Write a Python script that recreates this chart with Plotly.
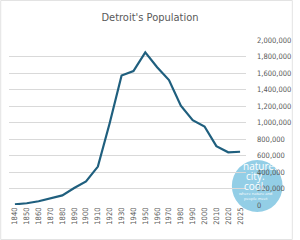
import plotly.graph_objects as go

years = ["1840", "1850", "1860", "1870", "1880", "1890", "1900", "1910", "1920", "1930",
         "1940", "1950", "1960", "1970", "1980", "1990", "2000", "2010", "2020", "2025"]
population = [9102, 21019, 45619, 79577, 116340, 205876, 285704, 465766, 993678, 1568662,
              1623452, 1849568, 1670144, 1514063, 1203368, 1027974, 951270, 713777, 639111, 645705]
y_ticks = [0, 200000, 400000, 600000, 800000, 1000000, 1200000, 1400000, 1600000, 1800000, 2000000]

FONT = "DejaVu Sans Condensed, Liberation Sans Narrow, Arial Narrow, sans-serif"
W, H = 300, 240
L, R, T, B = 9, 48, 40, 35
pw, ph = W - L - R, H - T - B

fig = go.Figure()
fig.add_trace(go.Scatter(x=years, y=population, mode="lines",
                         line=dict(color="#1f5f7e", width=2.2), hoverinfo="skip"))

fig.update_layout(
    width=W, height=H,
    margin=dict(l=L, r=R, t=T, b=B, pad=0),
    paper_bgcolor="white", plot_bgcolor="white",
    showlegend=False,
    title=dict(text="Detroit's Population", x=0.5, xanchor="center", y=1 - 17 / H, yanchor="middle",
               font=dict(family=FONT, size=11, color="#595959")),
    xaxis=dict(type="category", tickangle=-90, showgrid=False, zeroline=False,
               showline=False, ticks="", tickfont=dict(family=FONT, size=7.5, color="#595959"),
               range=[-0.5, len(years) - 0.5], fixedrange=True),
    yaxis=dict(side="right", range=[0, 2000000], tickvals=y_ticks,
               ticktext=[f"{v:,}" for v in y_ticks], showgrid=True, gridcolor="#d9d9d9",
               gridwidth=1, zeroline=False, showline=False, ticks="",
               ticklabelstandoff=10,
               tickfont=dict(family=FONT, size=7.5, color="#595959"), fixedrange=True),
)

# outer chart border
fig.add_shape(type="rect", xref="paper", yref="paper",
              x0=-L / pw + 0.5 / pw, x1=(W - L - 0.5) / pw,
              y0=-B / ph + 0.5 / ph, y1=(H - B - 0.5) / ph,
              line=dict(color="#e3e3e3", width=1), fillcolor="rgba(0,0,0,0)", layer="below")

# watermark logo
cx, cy, r = 263.5, 186, 26
def px(x):
    return (x - L) / pw
def py(y):
    return (H - B - y) / ph
fig.add_shape(type="circle", xref="paper", yref="paper",
              x0=px(cx - r), x1=px(cx + r), y0=py(cy + r), y1=py(cy - r),
              line=dict(width=0), fillcolor="rgba(128,198,226,0.85)", layer="between")
for txt, xx, yy, sz, anc in [("nature.", 247, 166, 10, "left"), ("city.", 250, 176, 10, "left"),
                             ("cool.", 248, 185.5, 10, "left"),
                             ("where nature and", 262, 193, 4, "center"),
                             ("people meet", 262, 198, 4, "center")]:
    fig.add_annotation(text=txt, xref="paper", yref="paper", x=px(xx), y=py(yy),
                       showarrow=False, xanchor=anc, yanchor="middle",
                       font=dict(family="Open Sans, sans-serif", size=sz, color="white"))

fig.write_html("out.html", config={"displayModeBar": False})
